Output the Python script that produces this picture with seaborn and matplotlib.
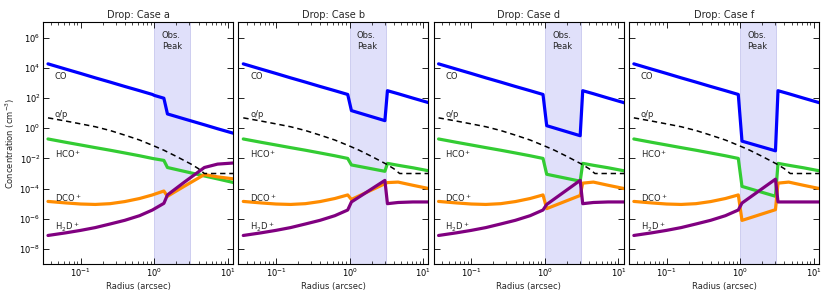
import numpy as np
import pandas as pd
import matplotlib
matplotlib.use("Agg")
import matplotlib.pyplot as plt
import seaborn as sns
from matplotlib.ticker import LogLocator, NullFormatter, FixedLocator

# ---------------- data ----------------
cases = ["a", "b", "d", "f"]
titles = ["Drop: Case a", "Drop: Case b", "Drop: Case d", "Drop: Case f"]

# inner profile shared by all cases (r < ~0.95 arcsec)
r_inner = [0.036, 0.063, 0.1, 0.158, 0.251, 0.398, 0.631, 0.944]
co_inner = [1.86e4, 8.3e3, 4.3e3, 2.2e3, 1.15e3, 590, 310, 174]
hco_inner = [0.195, 0.117, 0.078, 0.052, 0.035, 0.023, 0.015, 0.010]
dco_inner = [1.41e-5, 1.12e-5, 9.5e-6, 8.9e-6, 1.0e-5, 1.38e-5, 2.2e-5, 3.8e-5]
h2d_inner = [7.8e-8, 1.17e-7, 1.7e-7, 2.6e-7, 4.5e-7, 7.9e-7, 1.6e-6, 3.8e-6]

# ortho/para ratio (identical in every case)
r_op = [0.036, 0.063, 0.1, 0.158, 0.251, 0.398, 0.631, 1.0, 1.35, 2.0, 3.16, 3.98, 4.79, 12.0]
op = [4.9, 3.0, 1.95, 1.26, 0.71, 0.35, 0.166, 0.066, 0.035, 0.0135, 0.0042, 0.0021, 0.001, 0.001]

# outer parts per case
r_tail_a = [1.0, 1.35, 1.51, 2.54, 4.79, 7.24, 12.0]
co_tail_a = [151, 98, 8.9, 4.2, 1.7, 0.93, 0.46]
hco_tail_a = [9.5e-3, 7.4e-3, 2.5e-3, 1.4e-3, 6.9e-4, 4.4e-4, 2.5e-4]
dco_tail_a = [4.2e-5, 6.9e-5, 3.1e-5, 1.4e-4, 8.5e-4, 6.0e-4, 4.4e-4]
h2d_tail_a = [4.5e-6, 1.05e-5, 3.8e-5, 2.6e-4, 2.5e-3, 4.2e-3, 5.0e-3]

r_tail_b = [1.06, 3.02, 3.27, 4.57, 7.24, 12.0]
co_tail_b = [14.8, 3.2, 309, 195, 100, 49]
hco_tail_b = [3.7e-3, 1.4e-3, 4.7e-3, 3.5e-3, 2.4e-3, 1.5e-3]
dco_tail_b = [1.9e-5, 2.1e-4, 2.5e-4, 2.7e-4, 1.66e-4, 1.0e-4]
h2d_tail_b = [1.3e-5, 3.5e-4, 1.0e-5, 1.2e-5, 1.3e-5, 1.3e-5]

r_tail_d = [1.06, 3.02, 3.27, 4.57, 7.24, 12.0]
co_tail_d = [1.48, 0.32, 309, 195, 100, 49]
hco_tail_d = [8.9e-4, 3.1e-4, 4.7e-3, 3.5e-3, 2.4e-3, 1.5e-3]
dco_tail_d = [4.7e-6, 3.5e-5, 2.3e-4, 2.7e-4, 1.66e-4, 1.0e-4]
h2d_tail_d = [8.9e-6, 3.5e-4, 1.0e-5, 1.2e-5, 1.3e-5, 1.3e-5]

r_tail_f = [1.06, 3.02, 3.27, 4.57, 7.24, 12.0]
co_tail_f = [0.14, 0.032, 309, 195, 100, 49]
hco_tail_f = [1.4e-4, 3.1e-5, 4.7e-3, 3.5e-3, 2.4e-3, 1.5e-3]
dco_tail_f = [7.8e-7, 4.0e-6, 2.3e-4, 2.7e-4, 1.66e-4, 1.0e-4]
h2d_tail_f = [1.1e-5, 4.2e-4, 1.3e-5, 1.3e-5, 1.3e-5, 1.3e-5]

obs_peak = [1.0, 3.1]

species = ["CO", "HCO+", "DCO+", "H2D+"]
colors = {"CO": "#0000ff", "HCO+": "#33cc33", "DCO+": "#ff8c00", "H2D+": "#800080"}

tails = {
    "a": (r_tail_a, co_tail_a, hco_tail_a, dco_tail_a, h2d_tail_a),
    "b": (r_tail_b, co_tail_b, hco_tail_b, dco_tail_b, h2d_tail_b),
    "d": (r_tail_d, co_tail_d, hco_tail_d, dco_tail_d, h2d_tail_d),
    "f": (r_tail_f, co_tail_f, hco_tail_f, dco_tail_f, h2d_tail_f),
}
inner = (co_inner, hco_inner, dco_inner, h2d_inner)

rows = []
for c in cases:
    rt = tails[c][0]
    for k, sp in enumerate(species):
        rr = r_inner + rt
        vv = inner[k] + tails[c][k + 1]
        for i, (x, y) in enumerate(zip(rr, vv)):
            rows.append(dict(case=c, species=sp, radius=x, conc=y, order=i))
df = pd.DataFrame(rows)
df_op = pd.DataFrame(dict(radius=r_op, conc=op))

# ---------------- plotting ----------------
sns.set_theme(style="white")
plt.rcParams.update({
    "font.family": ["DejaVu Sans"],
    "axes.edgecolor": "black",
    "axes.linewidth": 0.8,
    "xtick.direction": "in",
    "ytick.direction": "in",
    "xtick.top": True,
    "ytick.right": True,
    "xtick.bottom": True,
    "ytick.left": True,
    "xtick.major.size": 4,
    "ytick.major.size": 4,
    "xtick.minor.size": 2,
    "xtick.major.width": 0.6,
    "ytick.major.width": 0.6,
    "xtick.minor.width": 0.5,
    "xtick.labelsize": 6,
    "ytick.labelsize": 6,
    "xtick.color": "black",
    "ytick.color": "black",
    "mathtext.default": "regular",
})

fig, axes = plt.subplots(1, 4, figsize=(8.31, 2.94), dpi=100, sharey=True)
fig.subplots_adjust(left=0.052, right=0.9856, bottom=0.102, top=0.925, wspace=0.028)

for ax, c, t in zip(axes, cases, titles):
    ax.axvspan(obs_peak[0], obs_peak[1], facecolor="#e0e0fa", edgecolor="#c8c8ee", lw=0.6, zorder=0)
    sub = df[df.case == c]
    for sp in species:
        s = sub[sub.species == sp].sort_values("order")
        sns.lineplot(data=s, x="radius", y="conc", ax=ax, sort=False, estimator=None,
                     color=colors[sp], lw=2.3, legend=False)
    sns.lineplot(data=df_op, x="radius", y="conc", ax=ax, sort=False, estimator=None,
                 color="black", lw=1.1, legend=False, linestyle=(0, (3.5, 2.5)))
    ax.set_xscale("log")
    ax.set_yscale("log")
    ax.set_xlim(0.031, 11.8)
    ax.set_ylim(1e-9, 1.1e7)
    ax.yaxis.set_major_locator(FixedLocator([1e-8, 1e-6, 1e-4, 1e-2, 1e0, 1e2, 1e4, 1e6]))
    ax.yaxis.set_minor_locator(FixedLocator([]))
    ax.xaxis.set_major_locator(FixedLocator([0.1, 1, 10]))
    ax.xaxis.set_minor_locator(LogLocator(base=10, subs=np.arange(2, 10)))
    ax.xaxis.set_minor_formatter(NullFormatter())
    ax.set_title(t, fontsize=7, pad=3)
    ax.set_xlabel("Radius (arcsec)", fontsize=6, labelpad=2)
    ax.set_ylabel("")
    for s in ax.spines.values():
        s.set_visible(True)
        s.set_color("black")
    ax.tick_params(axis="both", which="both", pad=2)

    fs = 6
    ax.text(0.0445, 2.6e3, "CO", fontsize=fs, ha="left", va="center")
    ax.text(0.0445, 8.0, "o/p", fontsize=fs, ha="left", va="center")
    ax.text(0.0445, 0.018, "HCO$^+$", fontsize=fs, ha="left", va="center")
    ax.text(0.0445, 2.5e-5, "DCO$^+$", fontsize=fs, ha="left", va="center")
    ax.text(0.0445, 2.8e-7, "H$_2$D$^+$", fontsize=fs, ha="left", va="center")
    ax.text(1.26, 6.3e5, "Obs.\nPeak", fontsize=fs, ha="left", va="center", linespacing=1.3)

axes[0].set_ylabel("Concentration (cm$^{-3}$)", fontsize=6, labelpad=2)

fig.savefig("out.png", dpi=100)
